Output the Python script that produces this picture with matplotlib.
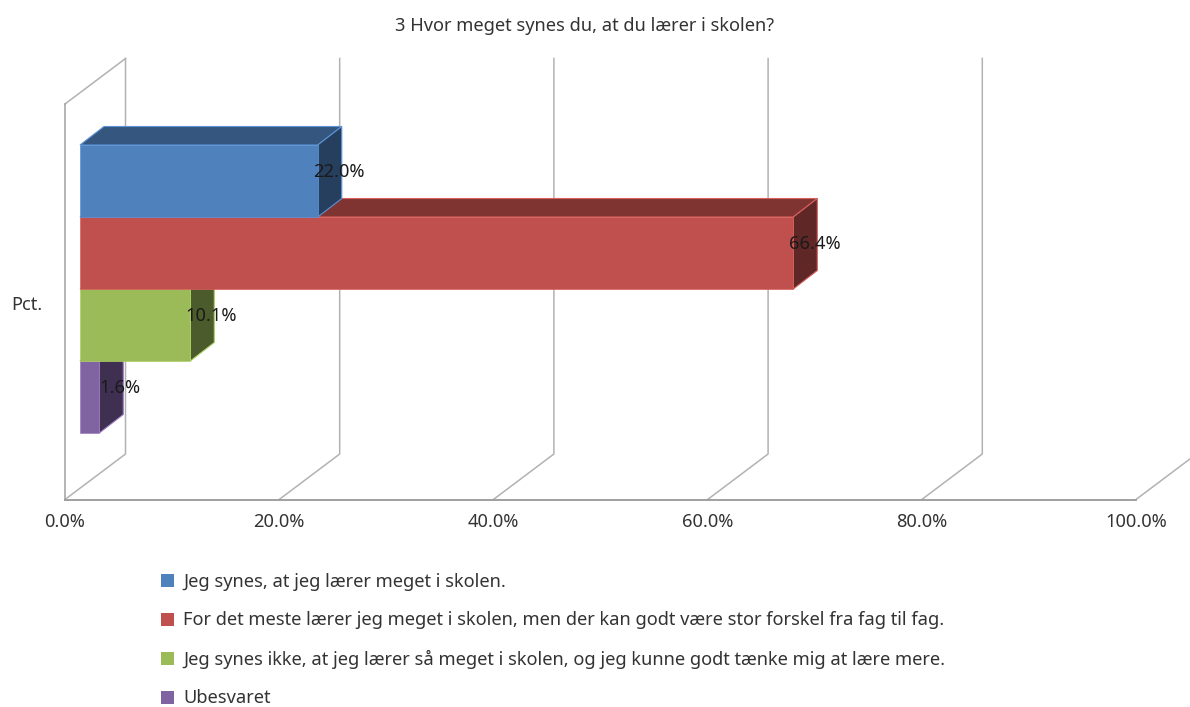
import matplotlib
matplotlib.use("Agg")
import matplotlib.pyplot as plt
from matplotlib.patches import Patch, Polygon

title = "3 Hvor meget synes du, at du lærer i skolen?"
answers = [
    "Jeg synes, at jeg lærer meget i skolen.",
    "For det meste lærer jeg meget i skolen, men der kan godt være stor forskel fra fag til fag.",
    "Jeg synes ikke, at jeg lærer så meget i skolen, og jeg kunne godt tænke mig at lære mere.",
    "Ubesvaret",
]
values = [22.0, 66.4, 10.1, 1.6]
ticks = [0, 20, 40, 60, 80, 100]

front_cols = ["#4f81bd", "#c0504d", "#9bbb59", "#8064a2"]
top_cols = ["#35567f", "#7f3432", "#677d3a", "#55426c"]
side_cols = ["#263f5e", "#5f2726", "#4b5b2b", "#3f3051"]
edge_cols = ["#5b93d6", "#d9605c", "#aed064", "#9a7cc0"]

W, H = 1190, 707
fs = 13.15
plt.rcParams["font.family"] = ["Noto Sans", "DejaVu Sans"]
fig = plt.figure(figsize=(W / 100, H / 100), dpi=100)

# front plane of the 3d box, in pixels from the picture
x0_px, x1_px, y_bot, y_top = 65, 1136, 499.5, 104
ax = fig.add_axes([x0_px / W, 1 - y_bot / H, (x1_px - x0_px) / W, (y_bot - y_top) / H])
ax.set_xlim(0, 100)
ax.set_ylim(0, 1)
ax.patch.set_visible(False)

px_x = 100 / (x1_px - x0_px)
px_y = 1 / (y_bot - y_top)
wall_dx, wall_dy = 60.5 * px_x, 45.5 * px_y
bar_dx, bar_dy = 24 * px_x, 18.5 * px_y
grid_col = "#b2b2b2"

# walls
for t in ticks:
    ax.plot([t, t + wall_dx, t + wall_dx], [0, wall_dy, 1 + wall_dy],
            color=grid_col, lw=1.1, zorder=1, clip_on=False)
ax.plot([0, wall_dx], [1, 1 + wall_dy], color=grid_col, lw=1.1, zorder=1, clip_on=False)

for s in ["top", "right"]:
    ax.spines[s].set_visible(False)
ax.spines["left"].set_color("#a0a0a0")
ax.spines["bottom"].set_color("#999999")
ax.spines["left"].set_linewidth(1.1)
ax.spines["bottom"].set_linewidth(1.3)

# bars, bottom one first so the upper ones cover it
bar_h = 72 * px_y
bar_top = (y_bot - 145) * px_y
start = 1.4
for i in range(len(values) - 1, -1, -1):
    end = values[i] + 1.6
    y1 = bar_top - i * bar_h
    y0 = y1 - bar_h
    z = 3 + (len(values) - i)
    ax.add_patch(Polygon([(start, y1), (start + bar_dx, y1 + bar_dy), (end + bar_dx, y1 + bar_dy), (end, y1)],
                         fc=top_cols[i], ec=edge_cols[i], lw=0.8, zorder=z, clip_on=False))
    ax.add_patch(Polygon([(end, y0), (end, y1), (end + bar_dx, y1 + bar_dy), (end + bar_dx, y0 + bar_dy)],
                         fc=side_cols[i], ec=edge_cols[i], lw=0.8, zorder=z, clip_on=False))
    ax.barh(y0 + bar_h / 2, end - start, height=bar_h, left=start, color=front_cols[i],
            edgecolor=edge_cols[i], lw=0.5, zorder=z)
    ax.annotate(f"{values[i]:.1f}%", (values[i], y0 + bar_h / 2), xytext=(27.5, 6.5),
                textcoords="offset points", ha="center", va="center",
                fontsize=fs, color="#1a1a1a", zorder=20)

ax.set_xticks(ticks)
ax.set_xticklabels([f"{t:.1f}%" for t in ticks], fontsize=fs, color="#333333")
ax.set_yticks([0.497])
ax.set_yticklabels(["Pct."], fontsize=fs, color="#333333")
ax.tick_params(axis="x", length=0, pad=9.5)
ax.tick_params(axis="y", length=0, pad=16.5)

fig.text(585 / W, 1 - 26 / H, title, ha="center", va="center", fontsize=fs, color="#333333")

handles = [Patch(fc=c, ec="none") for c in front_cols]
fig.legend(handles, answers, loc="upper left", bbox_to_anchor=(144.6 / W, 1 - 556.6 / H),
           frameon=False, fontsize=fs, labelcolor="#333333", handlelength=0.72,
           handleheight=0.72, handletextpad=0.5, labelspacing=1.12)

fig.savefig("out.png", dpi=100)
